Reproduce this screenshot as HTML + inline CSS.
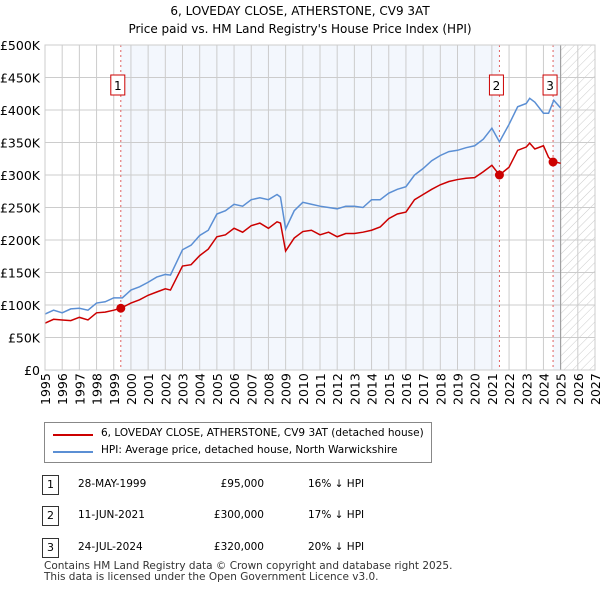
<!DOCTYPE html>
<html><head><meta charset="utf-8"><style>
body{margin:0;background:#fff;font-family:"DejaVu Sans","Liberation Sans",sans-serif;}
#wrap{position:relative;width:600px;height:590px;overflow:hidden}
.t{position:absolute;font-size:12px;color:#000;white-space:nowrap}
</style></head><body><div id="wrap">
<div class="t" style="left:0;width:600px;text-align:center;top:2px;font-size:12px;line-height:18px">6, LOVEDAY CLOSE, ATHERSTONE, CV9 3AT<br>Price paid vs. HM Land Registry's House Price Index (HPI)</div>
<svg id="svg" width="600" height="420" style="position:absolute;left:0;top:0;font-family:'DejaVu Sans',sans-serif">
<defs><pattern id="hatch" width="6" height="6" patternUnits="userSpaceOnUse" patternTransform="rotate(45)"><line x1="0" y1="0" x2="0" y2="6" stroke="#ccc" stroke-width="1"/></pattern></defs>
</svg>
<div style="position:absolute;left:44px;top:422px;width:386px;height:39px;border:1px solid #888">
 <div style="position:absolute;left:8px;top:11px;width:40px;height:2px;background:#cc0000"></div>
 <div class="t" style="left:56px;top:4px;font-size:10.5px">6, LOVEDAY CLOSE, ATHERSTONE, CV9 3AT (detached house)</div>
 <div style="position:absolute;left:8px;top:28px;width:40px;height:2px;background:#5b8fd4"></div>
 <div class="t" style="left:56px;top:21px;font-size:10.5px">HPI: Average price, detached house, North Warwickshire</div>
</div>
<div id="tbl"></div>
<div class="t" style="left:44px;top:561px;font-size:10.5px;line-height:11px;color:#333">Contains HM Land Registry data © Crown copyright and database right 2025.<br>This data is licensed under the Open Government Licence v3.0.</div>
</div>
<script>
const hpiYears=[1995,1995.5,1996,1996.5,1997,1997.5,1998,1998.5,1999,1999.5,2000,2000.5,2001,2001.5,2002,2002.3,2003,2003.5,2004,2004.5,2005,2005.5,2006,2006.5,2007,2007.5,2008,2008.5,2008.7,2009,2009.5,2010,2010.5,2011,2011.5,2012,2012.5,2013,2013.5,2014,2014.5,2015,2015.5,2016,2016.5,2017,2017.5,2018,2018.5,2019,2019.5,2020,2020.5,2021,2021.44,2022,2022.5,2023,2023.2,2023.5,2024,2024.3,2024.6,2025];
const hpiValues=[86,92,88,94,95,92,103,105,111,111,123,128,135,143,147,146,185,192,207,215,240,245,255,252,262,265,262,270,266,217,245,258,255,252,250,248,252,252,250,262,262,272,278,282,300,310,322,330,336,338,342,345,355,372,351,378,405,410,418,412,395,395,415,403];
const ppYears=[1995,1995.5,1996,1996.5,1997,1997.5,1998,1998.5,1999,1999.4,2000,2000.5,2001,2001.5,2002,2002.3,2003,2003.5,2004,2004.5,2005,2005.5,2006,2006.5,2007,2007.5,2008,2008.5,2008.7,2009,2009.5,2010,2010.5,2011,2011.5,2012,2012.5,2013,2013.5,2014,2014.5,2015,2015.5,2016,2016.5,2017,2017.5,2018,2018.5,2019,2019.5,2020,2020.5,2021,2021.44,2022,2022.5,2023,2023.2,2023.5,2024,2024.3,2024.56,2025];
const ppValues=[72,78,77,76,81,77,88,89,92,95,103,108,115,120,125,123,160,162,176,186,205,208,218,212,222,226,218,228,226,183,203,213,215,208,212,205,210,210,212,215,220,233,240,243,262,270,278,285,290,293,295,296,305,315,300,312,338,343,349,340,345,327,321,318];
const saleYears=[1999.41,2021.44,2024.56];
const saleValues=[95,300,320];
const saleLabels=["1","2","3"];
const saleDates=["28-MAY-1999","11-JUN-2021","24-JUL-2024"];
const salePrices=["£95,000","£300,000","£320,000"];
const saleHpi=["16% ↓ HPI","17% ↓ HPI","20% ↓ HPI"];
const yTicks=[0,50,100,150,200,250,300,350,400,450,500];
const yTickLabels=["£0","£50K","£100K","£150K","£200K","£250K","£300K","£350K","£400K","£450K","£500K"];
const xTicks=[1995,1996,1997,1998,1999,2000,2001,2002,2003,2004,2005,2006,2007,2008,2009,2010,2011,2012,2013,2014,2015,2016,2017,2018,2019,2020,2021,2022,2023,2024,2025,2026,2027];
const L=45,R=595,T=45,B=370;
const X=y=>L+(y-1995)/(2027-1995)*(R-L);
const Y=v=>B-v/500*(B-T);
const svg=document.getElementById('svg');const NS='http://www.w3.org/2000/svg';
function mk(tag,attrs,parent){const e=document.createElementNS(NS,tag);for(const k in attrs)e.setAttribute(k,attrs[k]);(parent||svg).appendChild(e);return e;}
let e;
e=mk('rect',{x:X(saleYears[0]),y:T,width:X(saleYears[1])-X(saleYears[0]),height:B-T,fill:'#eef3fc',opacity:0.7});


e=mk('rect',{x:X(saleYears[2]),y:T,width:X(2025)-X(saleYears[2]),height:B-T,fill:'#eef3fc',opacity:0.7});


e=mk('rect',{x:X(2025),y:T,width:R-X(2025),height:B-T,fill:'url(#hatch)'});


yTicks.forEach((v,i)=>{
 e=mk('line',{x1:L,x2:R,y1:Y(v),y2:Y(v),stroke:'#ccc','stroke-width':1});
 
 
 e=mk('text',{x:40,y:Y(v)+5,'text-anchor':'end','font-size':12.5,fill:'#000'});e.textContent=yTickLabels[i];
 
 
});
xTicks.forEach(y=>{
 e=mk('line',{x1:X(y),x2:X(y),y1:T,y2:B,stroke:'#ccc','stroke-width':1});
 
 
 e=mk('text',{transform:`translate(${X(y)+5},${B+35}) rotate(-90)`,'font-size':12.5,fill:'#000'});e.textContent=y;
 
 
});
e=mk('line',{x1:X(2025),x2:X(2025),y1:T,y2:B,stroke:'#999','stroke-width':1});


saleYears.forEach((y,i)=>{
 e=mk('line',{x1:X(y),x2:X(y),y1:T,y2:B,stroke:'#e06060','stroke-width':1,'stroke-dasharray':'2,3'});
 
 
});
e=mk('polyline',{points:hpiYears.map((y,i)=>X(y)+','+Y(hpiValues[i])).join(' '),fill:'none',stroke:'#5b8fd4','stroke-width':1.5});


e=mk('polyline',{points:ppYears.map((y,i)=>X(y)+','+Y(ppValues[i])).join(' '),fill:'none',stroke:'#cc0000','stroke-width':1.5});


saleYears.forEach((y,i)=>{
 e=mk('circle',{cx:X(y),cy:Y(saleValues[i]),r:4.5,fill:'#cc0000'});
 
 
 e=mk('rect',{x:X(y)-10,y:75,width:14,height:20,fill:'#fff',stroke:'#cc0000','stroke-width':1});
 
 
 e=mk('text',{x:X(y)-3,y:90,'text-anchor':'middle','font-size':12,fill:'#000'});e.textContent=saleLabels[i];
 
 
});
e=mk('rect',{x:L,y:T,width:R-L,height:B-T,fill:'none',stroke:'#ccc','stroke-width':1});


const tbl=document.getElementById('tbl');
const rowY=[475,506,538];
saleLabels.forEach((s,i)=>{
 const r=document.createElement('div');
 
 
 r.innerHTML=`<div style="position:absolute;left:42px;top:${rowY[i]}px;width:15px;height:18px;border:1px solid #333;font-size:11px;text-align:center;line-height:18px">${s}</div>
 <div class="t" style="left:78px;top:${rowY[i]+3}px;font-size:10.5px">${saleDates[i]}</div>
 <div class="t" style="left:200px;width:64px;text-align:right;top:${rowY[i]+3}px;font-size:10.5px">${salePrices[i]}</div>
 <div class="t" style="left:308px;top:${rowY[i]+3}px;font-size:10.5px">${saleHpi[i]}</div>`;
 tbl.appendChild(r);
});
</script></body></html>
